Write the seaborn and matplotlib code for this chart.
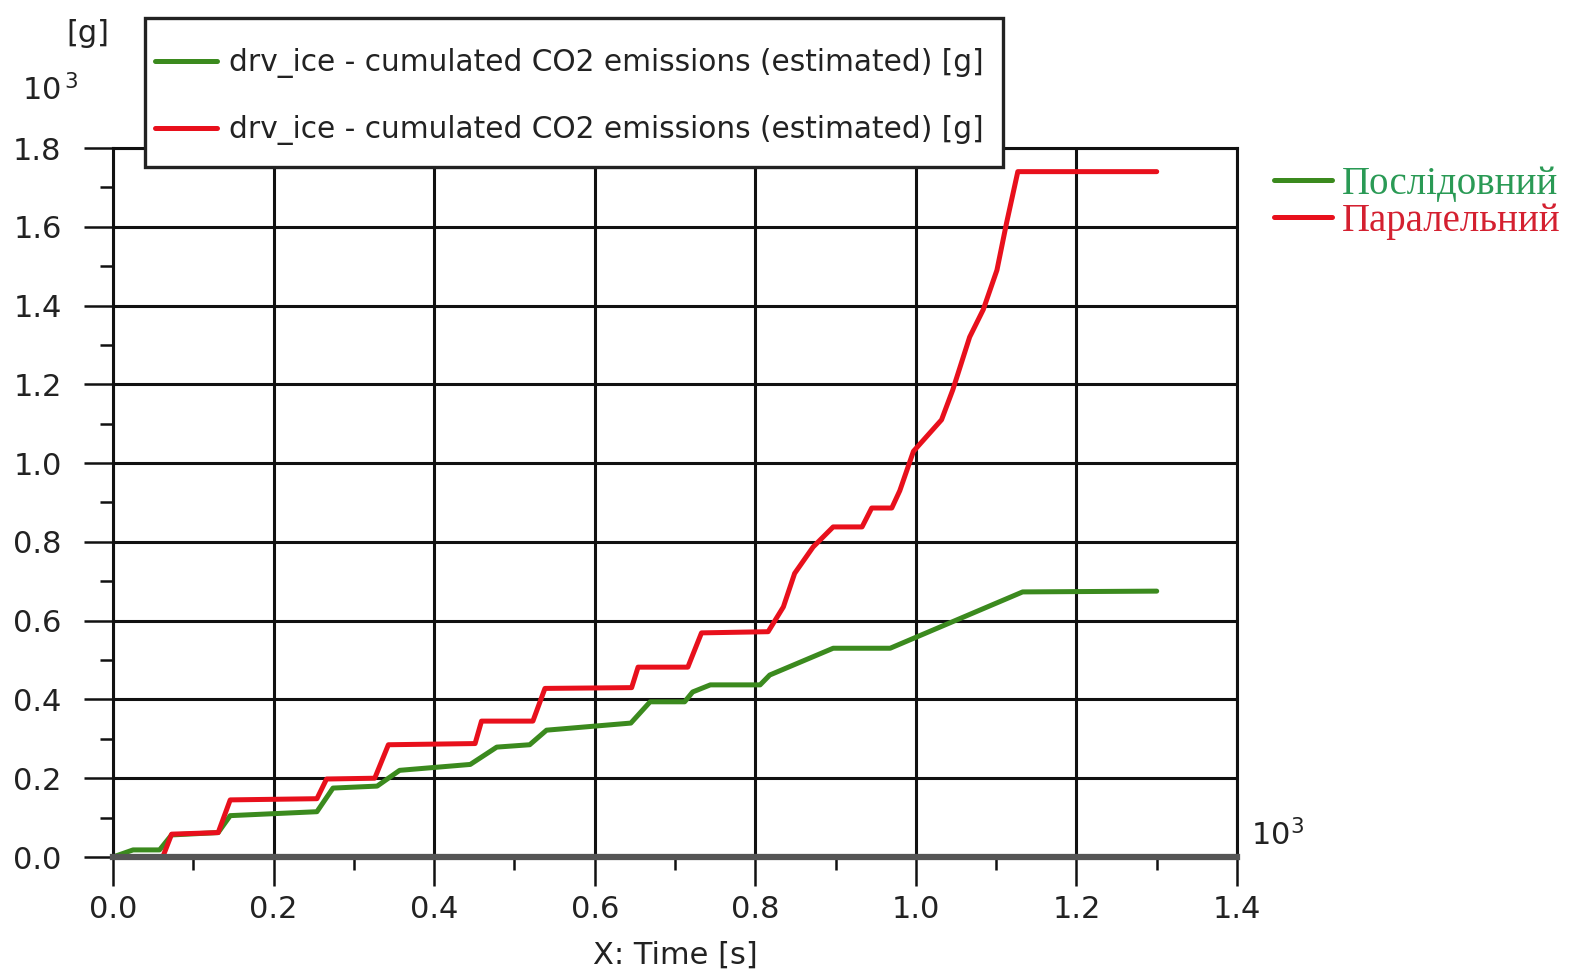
import matplotlib
matplotlib.use("Agg")
import matplotlib.pyplot as plt
from matplotlib.lines import Line2D
from matplotlib.patches import Rectangle
from matplotlib.ticker import MultipleLocator
import seaborn as sns

sns.set_style("white")
plt.rcParams['font.family'] = ['DejaVu Sans']

# time in 10^3 s, emissions in 10^3 g
t_serial = [0, 0.025, 0.058, 0.073, 0.131, 0.146, 0.254, 0.274, 0.329, 0.357,
            0.445, 0.478, 0.519, 0.54, 0.645, 0.669, 0.712, 0.722, 0.744,
            0.806, 0.818, 0.897, 0.968, 1.133, 1.3]
co2_serial = [0, 0.018, 0.018, 0.056, 0.062, 0.105, 0.115, 0.175, 0.18, 0.22,
              0.235, 0.279, 0.285, 0.322, 0.34, 0.394, 0.394, 0.419, 0.437,
              0.437, 0.462, 0.53, 0.53, 0.673, 0.675]

t_parallel = [0, 0.062, 0.073, 0.131, 0.146, 0.254, 0.266, 0.326, 0.343, 0.451,
              0.459, 0.523, 0.538, 0.646, 0.654, 0.716, 0.733, 0.816, 0.835,
              0.849, 0.872, 0.897, 0.933, 0.945, 0.970, 0.980, 0.997, 1.032,
              1.046, 1.067, 1.084, 1.101, 1.113, 1.127, 1.3]
co2_parallel = [0, 0, 0.058, 0.062, 0.145, 0.148, 0.198, 0.2, 0.285, 0.288,
                0.345, 0.345, 0.428, 0.43, 0.482, 0.482, 0.569, 0.572, 0.635,
                0.72, 0.787, 0.838, 0.838, 0.886, 0.886, 0.93, 1.03, 1.11,
                1.186, 1.32, 1.39, 1.49, 1.61, 1.74, 1.74]

legend_label = "drv_ice - cumulated CO2 emissions (estimated) [g]"
series_names = ["Послідовний", "Паралельний"]

green = "#3b8a1e"
red = "#e8101c"
ink = "#222222"

fig = plt.figure(figsize=(15.73, 9.8), dpi=100)
ax = fig.add_axes([113 / 1573, 1 - 857 / 980, (1237 - 113) / 1573, (857 - 148) / 980])

sns.lineplot(x=t_serial, y=co2_serial, ax=ax, color=green, linewidth=3.6,
             estimator=None, sort=False)
sns.lineplot(x=t_parallel, y=co2_parallel, ax=ax, color=red, linewidth=3.6,
             estimator=None, sort=False)

ax.set_xlim(0, 1.4)
ax.set_ylim(0, 1.8)
ax.xaxis.set_major_locator(MultipleLocator(0.2))
ax.xaxis.set_minor_locator(MultipleLocator(0.1))
ax.yaxis.set_major_locator(MultipleLocator(0.2))
ax.yaxis.set_minor_locator(MultipleLocator(0.1))
ax.xaxis.set_major_formatter(lambda v, p: f"{v:.1f}")
ax.yaxis.set_major_formatter(lambda v, p: f"{v:.1f}")
ax.grid(True, which="major", color="#111111", linewidth=2.2)
ax.set_axisbelow(True)

ax.tick_params(axis="both", which="major", direction="out", length=21, width=1.8,
               color="#111111", labelsize=22, labelcolor=ink, bottom=True, left=True)
ax.tick_params(axis="both", which="minor", direction="out", length=9.5, width=1.8,
               color="#111111", bottom=True, left=True)
ax.tick_params(axis="x", which="major", pad=6)
ax.tick_params(axis="y", which="major", pad=16)

for side in ["left", "top", "right"]:
    ax.spines[side].set_color("#111111")
    ax.spines[side].set_linewidth(2.2)
ax.spines["bottom"].set_color("#555555")
ax.spines["bottom"].set_linewidth(4.5)

ax.set_xlabel("")
ax.set_ylabel("")

fig.text(88 / 1573, 1 - 33 / 980, "[g]", fontsize=22, color=ink,
         ha="center", va="center")
fig.text(50 / 1573, 1 - 90 / 980, r"10$^{\,3}$", fontsize=22, color=ink,
         ha="center", va="center")
fig.text(1278 / 1573, 1 - 835 / 980, r"10$^{3}$", fontsize=22, color=ink,
         ha="center", va="center")
fig.text(675 / 1573, 1 - 955 / 980, "X: Time [s]", fontsize=22, color=ink,
         ha="center", va="center")

# legend box drawn separately so the padding can differ per side
box = Rectangle((145 / 1573, 1 - 167 / 980), (1003 - 145) / 1573, (167 - 18) / 980,
                transform=fig.transFigure, facecolor="white", edgecolor=ink,
                linewidth=2.4, zorder=5)
fig.patches.append(box)

handles = [Line2D([], [], color=green, linewidth=3.6),
           Line2D([], [], color=red, linewidth=3.6)]
leg = fig.legend(handles, [legend_label, legend_label], loc="upper left",
                 bbox_to_anchor=(155 / 1573, 1 - 48 / 980), fontsize=21.3,
                 frameon=False, handlelength=2.1, handletextpad=0.4,
                 labelspacing=1.25, borderpad=0, borderaxespad=0)
leg.set_zorder(6)
for txt in leg.get_texts():
    txt.set_color(ink)

leg2 = fig.legend(handles, series_names, loc="upper left",
                  bbox_to_anchor=(1258 / 1573, 1 - 150 / 980),
                  frameon=False, handlelength=1.5, handletextpad=0.25,
                  labelspacing=0.0, borderaxespad=0,
                  prop={"family": "Liberation Serif", "size": 28},
                  labelcolor=["#2a9a55", "#d42030"])

fig.savefig("out.png", dpi=100)
